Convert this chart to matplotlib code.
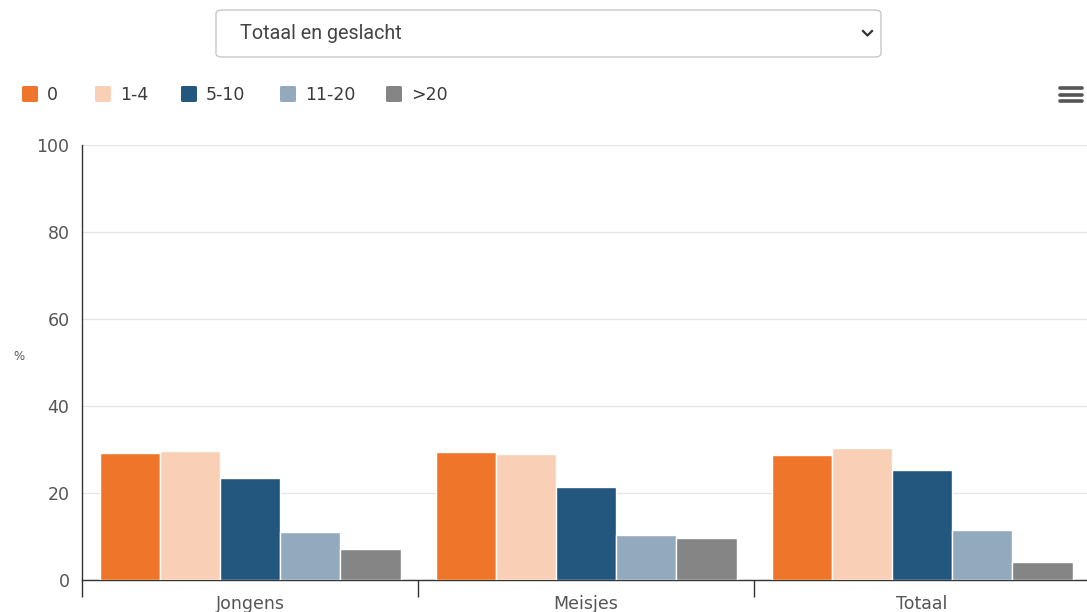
import matplotlib
matplotlib.use("Agg")
import matplotlib.pyplot as plt
from matplotlib.patches import FancyBboxPatch
import numpy as np

categories = ["Jongens", "Meisjes", "Totaal"]
series_names = ["0", "1-4", "5-10", "11-20", ">20"]
series_values = {
    "0":     [29.1, 29.4, 28.7],
    "1-4":   [29.7, 29.0, 30.3],
    "5-10":  [23.4, 21.3, 25.4],
    "11-20": [11.1, 10.4, 11.4],
    ">20":   [7.1, 9.7, 4.1],
}
colors = ["#ee752a", "#f9d0b5", "#23577e", "#92a9be", "#858585"]
yticks = [0, 20, 40, 60, 80, 100]
dropdown_label = "Totaal en geslacht"
y_label = "%"

W, H = 1087, 612
fig = plt.figure(figsize=(W / 100, H / 100), dpi=100)
fig.patch.set_facecolor("white")
FONT = "DejaVu Sans"

def fx(px):
    return px / W

def fy(py):
    return 1 - py / H

# axes: x from 82 to 1090 px, y from 145 to 580 px
ax = fig.add_axes([fx(82), fy(580), (1090 - 82) / W, (580 - 145) / H])
ax.set_xlim(-0.5, len(categories) - 0.5)
ax.set_ylim(0, 100)

n = len(series_names)
bw = 60.2 / 336.0
x = np.arange(len(categories))
for i, name in enumerate(series_names):
    off = (i - (n - 1) / 2) * bw
    ax.bar(x + off, series_values[name], width=bw, color=colors[i],
           edgecolor="white", linewidth=1.0, zorder=3)

for s in ["top", "right"]:
    ax.spines[s].set_visible(False)
ax.spines["left"].set_color("#333333")
ax.spines["left"].set_linewidth(1.0)
ax.spines["bottom"].set_color("#333333")
ax.spines["bottom"].set_linewidth(1.0)

ax.set_yticks(yticks)
ax.yaxis.grid(True, color="#e6e6e6", linewidth=1.0, zorder=0)
ax.tick_params(axis="y", length=0, pad=9, labelsize=12.5, labelcolor="#555555")
for lab in ax.get_yticklabels():
    lab.set_fontfamily(FONT)

ax.set_xticks(np.arange(-0.5, len(categories), 1.0))
ax.set_xticklabels([])
ax.set_xticks(x, minor=True)
ax.set_xticklabels(categories, minor=True, fontsize=12.5, color="#555555", fontfamily=FONT)
ax.tick_params(axis="x", which="major", length=12, width=1.0, color="#333333", direction="out")
ax.tick_params(axis="x", which="minor", length=0, pad=10.5)

fig.text(fx(19), fy(356), y_label, fontsize=8.5, color="#555555", ha="center", va="center", fontfamily=FONT)

# dropdown box
box = FancyBboxPatch((fx(216), fy(57)), fx(881) - fx(216), fy(10) - fy(57),
                     boxstyle="round,pad=0,rounding_size=0.006",
                     transform=fig.transFigure, facecolor="white",
                     edgecolor="#c8c8c8", linewidth=1.0)
fig.patches.append(box)
fig.text(fx(240), fy(33.5), dropdown_label, fontsize=14.2, color="#444444",
         ha="left", va="center", fontfamily="Roboto")
fig.lines.append(plt.Line2D([fx(863), fx(867.5), fx(872)], [fy(31), fy(35.5), fy(31)],
                            transform=fig.transFigure, color="#333333", linewidth=1.6))

# legend
leg_sq_x = [22, 95, 181, 280, 386]
for i, name in enumerate(series_names):
    sq = FancyBboxPatch((fx(leg_sq_x[i]), fy(102)), fx(16), 16 / H,
                        boxstyle="round,pad=0,rounding_size=0.002",
                        transform=fig.transFigure, facecolor=colors[i], edgecolor="none")
    fig.patches.append(sq)
    fig.text(fx(leg_sq_x[i] + 25), fy(94.5), name, fontsize=12.5, color="#3a3a3a",
             ha="left", va="center", fontfamily=FONT)

# hamburger menu
for yy in [88, 94.5, 101]:
    fig.lines.append(plt.Line2D([fx(1060), fx(1082)], [fy(yy), fy(yy)],
                                transform=fig.transFigure, color="#555555",
                                linewidth=2.6, solid_capstyle="round"))

fig.savefig("out.png", dpi=100, facecolor="white")
